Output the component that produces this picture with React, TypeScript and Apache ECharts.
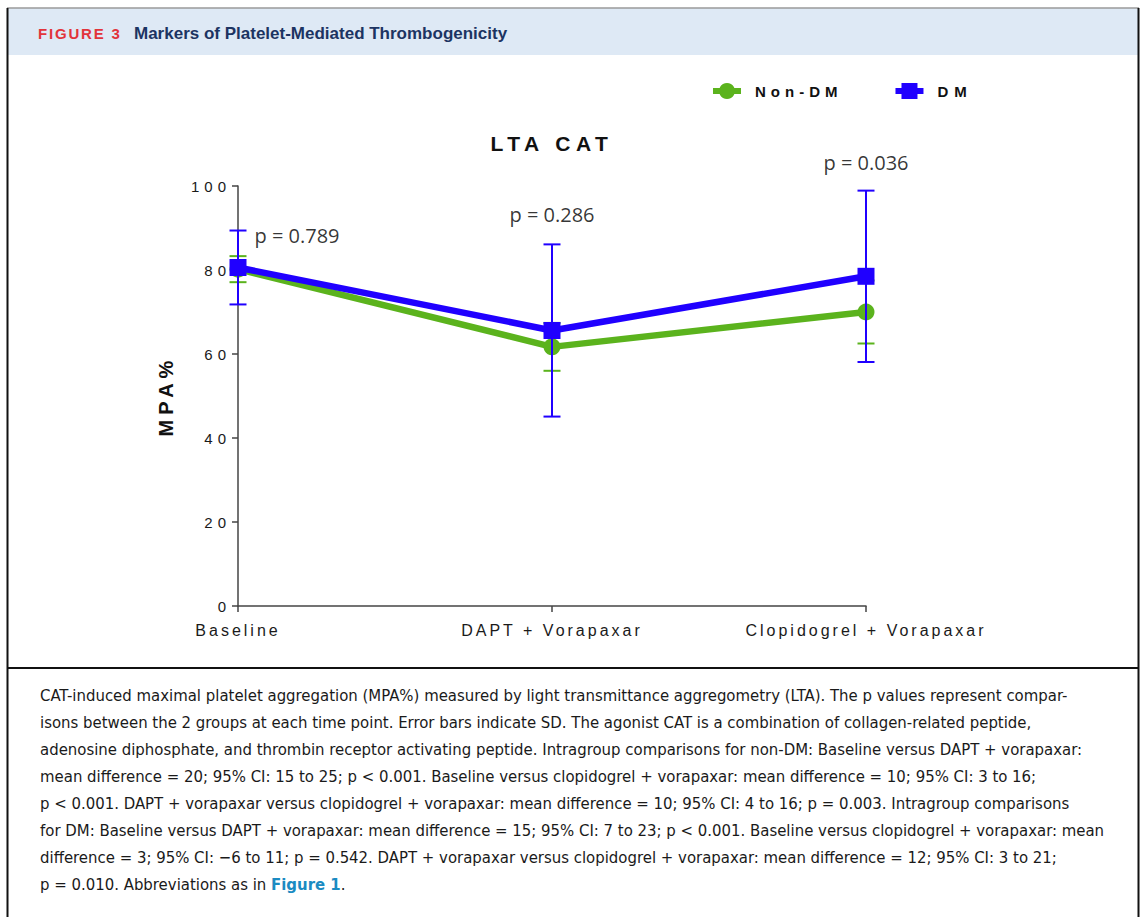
import React, { useEffect, useRef } from 'react';
import * as echarts from 'echarts';

const CATEGORIES = ['Baseline', 'DAPT + Vorapaxar', 'Clopidogrel + Vorapaxar'];
const NON_DM_MEAN = [80.2, 61.7, 70.0];
const NON_DM_SD = [3.1, 5.7, 7.5];
const DM_MEAN = [80.6, 65.6, 78.5];
const DM_SD = [8.8, 20.5, 20.4];
const P_VALUES = ['p = 0.789', 'p = 0.286', 'p = 0.036'];
const Y_MIN = 0;
const Y_MAX = 100;
const Y_INTERVAL = 20;
const SERIES_NAMES = ['Non-DM', 'DM'];
const CHART_TITLE = 'LTA CAT';
const Y_NAME = 'MPA%';
const FIG_LABEL = 'FIGURE 3';
const FIG_TITLE = 'Markers of Platelet-Mediated Thrombogenicity';
const CAPTION_LINES = [
  'CAT-induced maximal platelet aggregation (MPA%) measured by light transmittance aggregometry (LTA). The p values represent compar-',
  'isons between the 2 groups at each time point. Error bars indicate SD. The agonist CAT is a combination of collagen-related peptide,',
  'adenosine diphosphate, and thrombin receptor activating peptide. Intragroup comparisons for non-DM: Baseline versus DAPT + vorapaxar:',
  'mean difference = 20; 95% CI: 15 to 25; p < 0.001. Baseline versus clopidogrel + vorapaxar: mean difference = 10; 95% CI: 3 to 16;',
  'p < 0.001. DAPT + vorapaxar versus clopidogrel + vorapaxar: mean difference = 10; 95% CI: 4 to 16; p = 0.003. Intragroup comparisons',
  'for DM: Baseline versus DAPT + vorapaxar: mean difference = 15; 95% CI: 7 to 23; p < 0.001. Baseline versus clopidogrel + vorapaxar: mean',
  'difference = 3; 95% CI: \u22126 to 11; p = 0.542. DAPT + vorapaxar versus clopidogrel + vorapaxar: mean difference = 12; 95% CI: 3 to 21;',
];
const CAPTION_LAST = ['p = 0.010. Abbreviations as in ', 'Figure 1', '.'];

const GREEN = '#5bb31d';
const BLUE = '#2000ff';
const AXIS_FONT = 'Liberation Sans, Arial, sans-serif';
const CAPTION_FONT = 'DejaVu Sans Condensed, Liberation Sans Narrow, sans-serif';
const CAPTION_SIZE = 16.6;

const SPACING: Record<string, number> = {
  '0': 5, '20': 5, '40': 5, '60': 5, '80': 5, '100': 5,
  'Baseline': 3, 'DAPT + Vorapaxar': 3, 'Clopidogrel + Vorapaxar': 3,
  'Non-DM': 5, 'DM': 6,
  'LTA CAT': 5.5, 'MPA%': 5,
  'FIGURE 3': 1.8,
};

function errRender(color: string) {
  return (params: any, api: any) => {
    const x = api.value(0);
    const m = api.value(1);
    const sd = api.value(2);
    const top = api.coord([x, m + sd]);
    const bot = api.coord([x, m - sd]);
    const hw = 8.5;
    const st = { stroke: color, lineWidth: 2 };
    return {
      type: 'group',
      children: [
        { type: 'line', shape: { x1: top[0], y1: top[1], x2: bot[0], y2: bot[1] }, style: st },
        { type: 'line', shape: { x1: top[0] - hw, y1: top[1], x2: top[0] + hw, y2: top[1] }, style: st },
        { type: 'line', shape: { x1: bot[0] - hw, y1: bot[1], x2: bot[0] + hw, y2: bot[1] }, style: st },
      ],
    };
  };
}

export default function App() {
  const ref = useRef<HTMLDivElement>(null);
  useEffect(() => {
    const el = ref.current!;
    const chart = echarts.init(el, null, { renderer: 'svg' });

    const pLabelStyles = [
      { position: 'right', distance: 16, offset: [0, 5], align: 'left' },
      { position: 'top', distance: 19 },
      { position: 'top', distance: 18 },
    ];

    const captionGraphics: any[] = CAPTION_LINES.map((line, i) => ({
      type: 'text',
      x: 40,
      y: 695 + i * 27.1,
      silent: true,
      style: {
        text: line,
        fill: '#1a1a1a',
        font: `${CAPTION_SIZE}px ${CAPTION_FONT}`,
        verticalAlign: 'middle',
        align: 'left',
      },
    }));
    captionGraphics.push({
      type: 'text',
      x: 40,
      y: 695 + CAPTION_LINES.length * 27.1,
      silent: true,
      style: {
        text: `{a|${CAPTION_LAST[0]}}{b|${CAPTION_LAST[1]}}{a|${CAPTION_LAST[2]}}`,
        verticalAlign: 'middle',
        align: 'left',
        rich: {
          a: { fontFamily: CAPTION_FONT, fontSize: CAPTION_SIZE, fill: '#1a1a1a' },
          b: { fontFamily: CAPTION_FONT, fontSize: CAPTION_SIZE, fill: '#1b8bc2', fontWeight: 'bold' },
        },
      },
    });

    const option: any = {
      animation: false,
      backgroundColor: '#ffffff',
      grid: { left: 238, right: 276, top: 186, bottom: 311, containLabel: false },
      legend: {
        data: SERIES_NAMES,
        left: 705,
        top: 78,
        itemWidth: 28,
        itemHeight: 20,
        itemGap: 80,
        selectedMode: false,
        lineStyle: { width: 6 },
        textStyle: {
          fontFamily: AXIS_FONT,
          fontSize: 15,
          fontWeight: 'bold',
          color: '#111',
          padding: [0, 0, 0, 9],
        },
      },
      xAxis: {
        type: 'category',
        data: CATEGORIES,
        boundaryGap: false,
        axisLine: { show: true, lineStyle: { color: '#444', width: 1.5 } },
        axisTick: { show: true, alignWithLabel: true, length: 6, lineStyle: { color: '#444', width: 1.5 } },
        axisLabel: { fontFamily: AXIS_FONT, fontSize: 16, color: '#1a1a1a', margin: 16 },
        splitLine: { show: false },
      },
      yAxis: {
        type: 'value',
        min: Y_MIN,
        max: Y_MAX,
        interval: Y_INTERVAL,
        name: Y_NAME,
        nameLocation: 'middle',
        nameGap: 62,
        nameRotate: 90,
        nameTextStyle: { fontFamily: AXIS_FONT, fontSize: 20, fontWeight: 'bold', color: '#111' },
        axisLine: { show: true, lineStyle: { color: '#444', width: 1.5 } },
        axisTick: { show: true, length: 6, lineStyle: { color: '#444', width: 1.5 } },
        axisLabel: { fontFamily: AXIS_FONT, fontSize: 15, color: '#1a1a1a', margin: 7 },
        splitLine: { show: false },
      },
      series: [
        {
          type: 'custom',
          name: 'Non-DM SD',
          z: 2,
          silent: true,
          renderItem: errRender(GREEN),
          data: CATEGORIES.map((_, i) => [i, NON_DM_MEAN[i], NON_DM_SD[i]]),
        },
        {
          type: 'line',
          name: SERIES_NAMES[0],
          z: 3,
          data: NON_DM_MEAN,
          symbol: 'circle',
          symbolSize: 17,
          lineStyle: { width: 6.5, color: GREEN },
          itemStyle: { color: GREEN },
        },
        {
          type: 'custom',
          name: 'DM SD',
          z: 4,
          silent: true,
          renderItem: errRender(BLUE),
          data: CATEGORIES.map((_, i) => [i, DM_MEAN[i], DM_SD[i]]),
        },
        {
          type: 'line',
          name: SERIES_NAMES[1],
          z: 5,
          data: DM_MEAN,
          symbol: 'rect',
          symbolSize: 17,
          lineStyle: { width: 6.5, color: BLUE },
          itemStyle: { color: BLUE },
        },
        {
          type: 'scatter',
          name: 'p',
          z: 6,
          silent: true,
          symbolSize: 1,
          itemStyle: { color: 'rgba(0,0,0,0)' },
          label: {
            show: true,
            formatter: (p: any) => P_VALUES[p.dataIndex],
            fontFamily: 'Open Sans, Noto Sans, sans-serif',
            fontSize: 20,
            color: '#000',
          },
          data: CATEGORIES.map((_, i) => ({
            value: [i, DM_MEAN[i] + DM_SD[i]],
            label: pLabelStyles[i],
          })),
        },
      ],
      graphic: [
        { type: 'rect', silent: true, shape: { x: 7, y: 8, width: 1132, height: 47 }, style: { fill: '#dee9f5' } },
        { type: 'line', silent: true, shape: { x1: 7, y1: 8, x2: 1139, y2: 8 }, style: { stroke: '#9a9a9a', lineWidth: 1.5 } },
        { type: 'line', silent: true, shape: { x1: 7.5, y1: 8, x2: 7.5, y2: 917 }, style: { stroke: '#111', lineWidth: 2 } },
        { type: 'line', silent: true, shape: { x1: 1138.5, y1: 8, x2: 1138.5, y2: 917 }, style: { stroke: '#111', lineWidth: 2 } },
        { type: 'line', silent: true, shape: { x1: 7, y1: 668, x2: 1139, y2: 668 }, style: { stroke: '#111', lineWidth: 2 } },
        {
          type: 'text', silent: true, x: 38, y: 33,
          style: { text: FIG_LABEL, fill: '#e2343b', font: `bold 15px ${AXIS_FONT}`, verticalAlign: 'middle', align: 'left' },
        },
        {
          type: 'text', silent: true, x: 134, y: 33,
          style: { text: FIG_TITLE, fill: '#1c3462', font: `bold 17px ${AXIS_FONT}`, verticalAlign: 'middle', align: 'left' },
        },
        {
          type: 'text', silent: true, x: 552, y: 143,
          style: { text: CHART_TITLE, fill: '#111', font: `bold 21px ${AXIS_FONT}`, verticalAlign: 'middle', align: 'center' },
        },
        ...captionGraphics,
      ],
    };

    chart.setOption(option);

    const apply = () => {
      el.querySelectorAll('text').forEach((t) => {
        const key = (t.textContent || '').trim();
        const s = SPACING[key];
        if (s !== undefined) t.setAttribute('letter-spacing', String(s));
      });
    };
    apply();
    chart.on('finished', apply);
    const raf = requestAnimationFrame(apply);
    const tm = setTimeout(apply, 50);

    return () => {
      cancelAnimationFrame(raf);
      clearTimeout(tm);
      chart.dispose();
    };
  }, []);

  return (
    <div
      ref={ref}
      style={{ position: 'absolute', left: 0, top: 0, width: 1142, height: 917, background: '#fff' }}
    />
  );
}
